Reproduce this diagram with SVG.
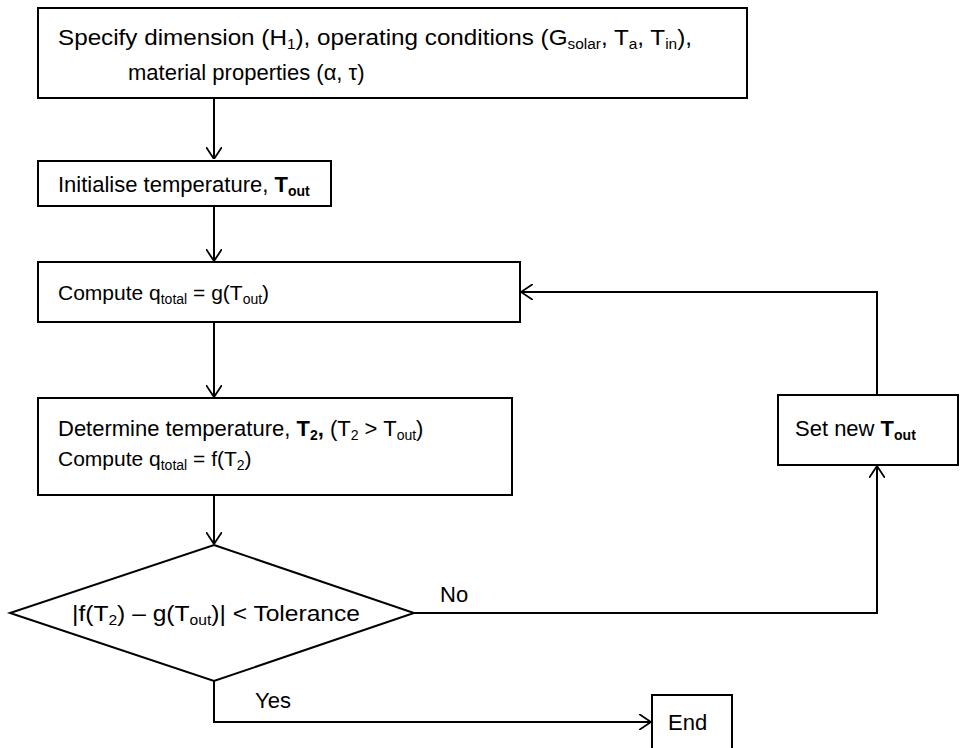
<svg xmlns="http://www.w3.org/2000/svg" width="960" height="748" viewBox="0 0 960 748">
<defs>
<style>
.box{fill:#fff;stroke:#000;stroke-width:2}
.ln{fill:none;stroke:#000;stroke-width:2}
text{font-family:"Liberation Sans","Open Sans",sans-serif;font-size:22px;fill:#000}
.c{font-size:21px}
.s{font-size:14px}
.b{font-weight:bold}
</style>
<marker id="arr" viewBox="0 0 12 16" refX="12" refY="8" markerWidth="12" markerHeight="16" markerUnits="userSpaceOnUse" orient="auto">
<path d="M0,0 L12,8 L0,16" fill="none" stroke="#000" stroke-width="1.8"/>
</marker>
</defs>
<g id="connectors">
<line class="ln" x1="214" y1="98" x2="214" y2="159" marker-end="url(#arr)"/>
<line class="ln" x1="214" y1="206" x2="214" y2="261" marker-end="url(#arr)"/>
<line class="ln" x1="214" y1="322" x2="214" y2="397" marker-end="url(#arr)"/>
<line class="ln" x1="214" y1="495" x2="214" y2="544" marker-end="url(#arr)"/>
<polyline class="ln" points="414,613 877,613 877,466" marker-end="url(#arr)"/>
<polyline class="ln" points="877,395 877,292 521,292" marker-end="url(#arr)"/>
<polyline class="ln" points="214,681 214,722 651,722" marker-end="url(#arr)"/>
<text x="440" y="602">No</text>
<text x="255" y="708">Yes</text>
</g>
<g id="specify">
<rect class="box" x="38" y="8" width="709" height="90"/>
<text x="58" y="45" textLength="634" lengthAdjust="spacingAndGlyphs">Specify dimension (H<tspan class="s" dy="4">1</tspan><tspan dy="-4">), operating conditions (G</tspan><tspan class="s" dy="4">solar</tspan><tspan dy="-4">, T</tspan><tspan class="s" dy="4">a</tspan><tspan dy="-4">, T</tspan><tspan class="s" dy="4">in</tspan><tspan dy="-4">),</tspan></text>
<text x="128" y="80">material properties (α, τ)</text>
</g>
<g id="initialise">
<rect class="box" x="38" y="161" width="293" height="45"/>
<text x="58" y="192">Initialise temperature, <tspan class="b">T</tspan><tspan class="s b" dy="4">out</tspan></text>
</g>
<g id="compute">
<rect class="box" x="38" y="262" width="482" height="60"/>
<text class="c" x="58" y="300">Compute q<tspan class="s" dy="4">total</tspan><tspan dy="-4"> = g(T</tspan><tspan class="s" dy="4">out</tspan><tspan dy="-4">)</tspan></text>
</g>
<g id="determine">
<rect class="box" x="38" y="398" width="474" height="97"/>
<text x="58" y="436">Determine temperature, <tspan class="b">T</tspan><tspan class="s b" dy="4">2</tspan><tspan class="b" dy="-4">,</tspan> (T<tspan class="s" dy="4">2</tspan><tspan dy="-4"> &gt; T</tspan><tspan class="s" dy="4">out</tspan><tspan dy="-4">)</tspan></text>
<text class="c" x="58" y="466">Compute q<tspan class="s" dy="4">total</tspan><tspan dy="-4"> = f(T</tspan><tspan class="s" dy="4">2</tspan><tspan dy="-4">)</tspan></text>
</g>
<g id="setnew">
<rect class="box" x="778" y="395" width="180" height="70"/>
<text x="795" y="436">Set new <tspan class="b">T</tspan><tspan class="s b" dy="4">out</tspan></text>
</g>
<g id="decision">
<polygon class="box" points="214,545 414,613 214,681 10,613"/>
<text x="72" y="621" textLength="288" lengthAdjust="spacingAndGlyphs">|f(T<tspan class="s" dy="4">2</tspan><tspan dy="-4">) – g(T</tspan><tspan class="s" dy="4">out</tspan><tspan dy="-4">)| &lt; Tolerance</tspan></text>
</g>
<g id="end">
<rect class="box" x="652" y="695" width="80" height="60"/>
<text x="668" y="730">End</text>
</g>
</svg>
